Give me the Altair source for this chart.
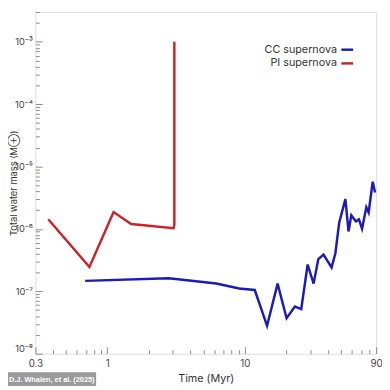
import json
import altair as alt
import pandas as pd

# ---- data ----
cc_t = [0.69, 2.8, 6.2, 9.1, 11.8, 14.5, 17.3, 20.1, 23.1, 25.7, 28.6, 31.6, 34.2,
        37.3, 42.7, 45.5, 48.5, 53.8, 56.7, 59.4, 64.1, 67.5, 71.1, 76.4, 79.4, 85.0, 88.4]
cc_m = [1.47e-7, 1.62e-7, 1.33e-7, 1.11e-7, 1.05e-7, 2.8e-8, 1.33e-7, 3.7e-8, 5.7e-8,
        5.2e-8, 2.69e-7, 1.33e-7, 3.28e-7, 3.88e-7, 2.42e-7, 4.07e-7, 1.26e-6, 3.0e-6,
        9.1e-7, 1.66e-6, 1.32e-6, 1.42e-6, 1.01e-6, 2.23e-6, 1.84e-6, 5.7e-6, 3.83e-6]
pi_t = [0.372, 0.741, 1.11, 1.49, 3.03, 3.07, 3.07]
pi_m = [1.43e-6, 2.45e-7, 1.86e-6, 1.2e-6, 1.03e-6, 1.15e-6, 1.0e-3]

series_names = ["CC supernova", "PI supernova"]
series_colors = ["#1c1cb4", "#cc2229"]

x_major = [0.3, 1, 10, 90]
x_major_labels = ["0.3", "1", "10", "90"]
x_minor = [0.4, 0.5, 0.6, 0.7, 0.8, 0.9, 2, 3, 4, 5, 6, 7, 8, 9, 20, 30, 40, 50, 60, 70, 80]
y_major = [1e-8, 1e-7, 1e-6, 1e-5, 1e-4, 1e-3]
y_major_labels = ["10⁻⁸", "10⁻⁷", "10⁻⁶", "10⁻⁵", "10⁻⁴", "10⁻³"]
y_minor = [k * 10.0 ** e for e in range(-8, -2) for k in range(2, 10)
           if k * 10.0 ** e <= 3e-3]

credit = "D.J. Whalen, et al. (2025)"

rows = []
for i, (t, m) in enumerate(zip(cc_t, cc_m)):
    rows.append({"t": t, "m": m, "series": series_names[0], "idx": i})
for i, (t, m) in enumerate(zip(pi_t, pi_m)):
    rows.append({"t": t, "m": m, "series": series_names[1], "idx": i})
df = pd.DataFrame(rows)

xscale = alt.Scale(type="log", domain=[0.3, 90], nice=False)
yscale = alt.Scale(type="log", domain=[1e-8, 3e-3], nice=False)

TICK = "#8a8a8a"
LAB = "#444444"
FONT = "Inter"

x_lab_expr = f"{json.dumps(x_major_labels)}[indexof({json.dumps(x_major)}, datum.value)]"
y_lab_expr = f"{json.dumps(y_major_labels, ensure_ascii=False)}[round(log(datum.value)/LN10)+8]"

lines = alt.Chart(df).mark_line(strokeWidth=2.5).encode(
    x=alt.X("t:Q", scale=xscale,
            axis=alt.Axis(orient="bottom", values=x_minor, labels=False, title=None,
                          domain=False, grid=False, tickSize=4, offset=-4,
                          tickColor=TICK, tickWidth=1)),
    y=alt.Y("m:Q", scale=yscale,
            axis=alt.Axis(orient="left", values=y_minor, labels=False, title=None,
                          domain=False, grid=False, tickSize=4, offset=-4,
                          tickColor=TICK, tickWidth=1)),
    color=alt.Color("series:N",
                    scale=alt.Scale(domain=series_names, range=series_colors),
                    legend=alt.Legend(title=None, orient="none", legendX=311, legendY=31,
                                      symbolType="stroke", symbolSize=144,
                                      symbolStrokeWidth=2.5, labelAlign="right",
                                      labelOffset=alt.ExprRef(expr="-18"), labelFontSize=11,
                                      labelColor="#333333", labelFont=FONT,
                                      rowPadding=1, padding=0)),
    detail="series:N",
    order=alt.Order("idx:Q"),
)

majors = alt.Chart(df).mark_line(strokeOpacity=0).encode(
    x=alt.X("t:Q", scale=xscale,
            axis=alt.Axis(orient="bottom", values=x_major, labelExpr=x_lab_expr,
                          domain=False, grid=False, tickSize=7, offset=-7,
                          tickColor=TICK, tickWidth=1, labelPadding=5,
                          labelFlush=False, labelOverlap=False, labelFontSize=10,
                          labelColor=LAB, labelFont=FONT,
                          title="Time (Myr)", titleFontSize=11, titleFontWeight="normal",
                          titleColor="#333333", titleFont=FONT, titlePadding=4)),
    y=alt.Y("m:Q", scale=yscale,
            axis=alt.Axis(orient="left", values=y_major, labelExpr=y_lab_expr,
                          domain=False, grid=False, tickSize=7, offset=-7,
                          tickColor=TICK, tickWidth=1, labelPadding=3,
                          labelFlush=True, labelOverlap=False, labelFontSize=9.5,
                          labelColor=LAB, labelFont=FONT,
                          title="Total water mass (M⊕)", titleFontSize=9.5,
                          titleFontWeight="normal", titleColor="#333333", titleFont=FONT,
                          titleX=-26.5, titleBaseline="alphabetic")),
    detail="series:N",
    order=alt.Order("idx:Q"),
)

one = pd.DataFrame({"a": [0]})
credit_bg = alt.Chart(one).mark_rect(color="#9a9a9a").encode(
    x=alt.value(-28), x2=alt.value(62), y=alt.value(368), y2=alt.value(382))
credit_txt = alt.Chart(one).mark_text(
    text=credit, color="white", fontSize=7.5, fontWeight="bold", font="Liberation Sans",
    align="left", baseline="middle").encode(x=alt.value(-27), y=alt.value(375.5))

chart = alt.layer(lines, majors, credit_bg, credit_txt).resolve_axis(
    x="independent", y="independent"
).properties(
    width=348, height=349,
    autosize=alt.AutoSizeParams(type="none"),
    padding={"left": 28, "top": 0, "right": 6, "bottom": 33},
).configure_view(stroke="#9a9a9a", strokeWidth=1.5).configure(background="white")

chart.save("out.html", embed_options={"renderer": "svg", "actions": False})
